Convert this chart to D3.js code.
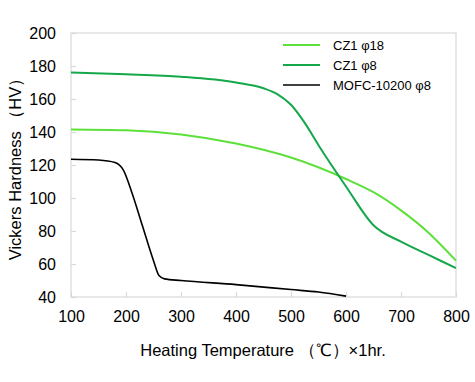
<!DOCTYPE html>
<html>
<head>
<meta charset="utf-8">
<script src="https://cdn.jsdelivr.net/npm/d3@7"></script>
<style>
  body { margin: 0; background: #fff; }
  svg { font-family: Arial, "Liberation Sans", sans-serif; }
</style>
</head>
<body>
<div id="chart"></div>
<script>
// data
const temps18 = [100, 200, 300, 400, 500, 600, 650, 700, 750, 800];
const cz1d18 = [141.5, 141, 138.5, 133, 124.5, 111.5, 103.5, 92.5, 79, 62];

const temps8 = [100, 200, 300, 400, 450, 475, 500, 525, 550, 600, 650, 700, 750, 800];
const cz1d8 = [176, 175, 173.5, 170, 166.5, 163, 156.5, 145.5, 132, 107, 83.5, 73.5, 65.5, 57.5];

const tempsMofc = [100, 150, 180, 195, 210, 230, 250, 260, 270, 300, 400, 500, 550, 600];
const mofc = [123.5, 123, 121.5, 117, 104, 83, 62, 53, 51, 50, 47.5, 44.5, 43, 40.5];

const xTicks = [100, 200, 300, 400, 500, 600, 700, 800];
const yTicks = [40, 60, 80, 100, 120, 140, 160, 180, 200];

const series = [
  { name: 'CZ1 φ18', xs: temps18, ys: cz1d18, color: '#5ee03a', width: 2 },
  { name: 'CZ1 φ8', xs: temps8, ys: cz1d8, color: '#14a84a', width: 2 },
  { name: 'MOFC-10200 φ8', xs: tempsMofc, ys: mofc, color: '#000000', width: 1.6 }
];

const W = 475, H = 382;
const margin = { top: 33, right: 19, bottom: 85, left: 71 };
const area = { width: W - margin.left - margin.right, height: H - margin.top - margin.bottom };

const svg = d3.select('#chart').append('svg')
  .attr('width', W)
  .attr('height', H);
const g = svg.append('g')
  .attr('transform', 'translate(' + margin.left + ',' + margin.top + ')');

const x = d3.scaleLinear().domain([100, 800]).range([0, area.width]);
const y = d3.scaleLinear().domain([40, 200]).range([area.height, 0]);

// frame
g.append('rect')
  .attr('x', 0).attr('y', 0)
  .attr('width', area.width).attr('height', area.height)
  .attr('fill', 'none')
  .attr('stroke', '#d9d9d9')
  .attr('stroke-width', 1.2);

// axes with inward ticks
const xAxis = g.append('g')
  .attr('transform', 'translate(0,' + area.height + ')')
  .call(d3.axisBottom(x).tickValues(xTicks).tickSizeInner(-5).tickSizeOuter(0).tickPadding(14));
const yAxis = g.append('g')
  .call(d3.axisLeft(y).tickValues(yTicks).tickSizeInner(-5).tickSizeOuter(0).tickPadding(15));

[xAxis, yAxis].forEach(ax => {
  ax.select('.domain').remove();
  ax.selectAll('.tick line').attr('stroke', '#d9d9d9').attr('stroke-width', 1.2);
  ax.selectAll('.tick text')
    .style('font-size', '16px')
    .style('font-family', 'Arial, "Liberation Sans", sans-serif')
    .attr('fill', '#000');
});

// curves
const line = d3.line()
  .x(d => x(d[0]))
  .y(d => y(d[1]))
  .curve(d3.curveMonotoneX);

for (const s of series) {
  g.append('path')
    .datum(s.xs.map((t, i) => [t, s.ys[i]]))
    .attr('d', line)
    .attr('fill', 'none')
    .attr('stroke', s.color)
    .attr('stroke-width', s.width);
}

// legend
const legend = svg.append('g');
for (const [i, s] of series.entries()) {
  const ly = 45 + 20 * i;
  legend.append('line')
    .attr('x1', 283).attr('x2', 320)
    .attr('y1', ly).attr('y2', ly)
    .attr('stroke', s.color)
    .attr('stroke-width', s.width);
  legend.append('text')
    .attr('x', 333).attr('y', ly)
    .attr('dominant-baseline', 'central')
    .style('font-size', '13px')
    .text(s.name);
}

// axis titles
svg.append('text')
  .attr('x', 263).attr('y', 356)
  .attr('text-anchor', 'middle')
  .style('font-size', '16.5px')
  .text('Heating Temperature （℃）×1hr.');

svg.append('text')
  .attr('transform', 'translate(21,' + (margin.top + area.height / 2) + ') rotate(-90)')
  .attr('text-anchor', 'middle')
  .style('font-size', '16.5px')
  .text('Vickers Hardness （HV）');
</script>
</body>
</html>
